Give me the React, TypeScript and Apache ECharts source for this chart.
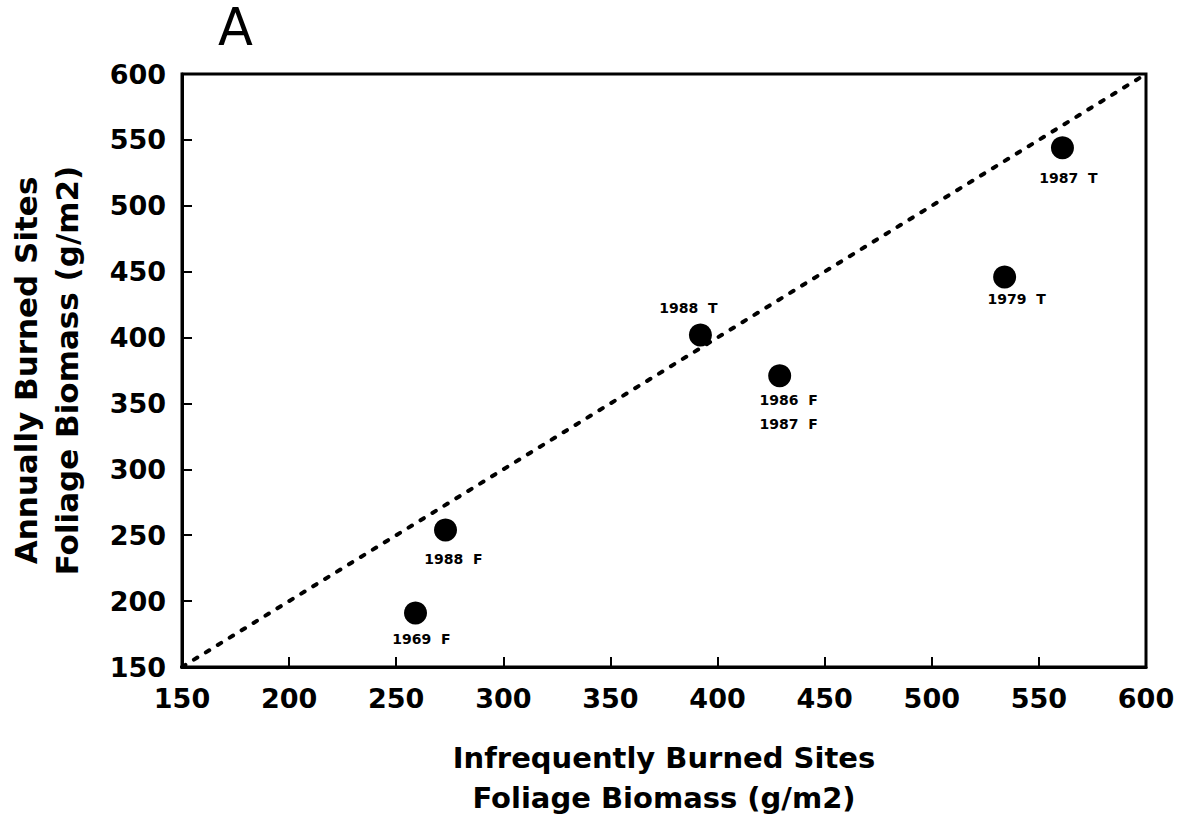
import React, { useEffect, useRef } from "react";
import * as echarts from "echarts";

const pointNames = ["1969  F", "1988  F", "1988  T", "1986  F\n1987  F", "1987  T", "1979  T"];
const infrequentValues = [259, 273, 392, 429, 561, 534];
const annualValues = [191, 254, 402, 371, 544, 446];
const labelOffsets = [
  [6, 26],
  [8, 29],
  [-12, -27],
  [9, 36],
  [6, 30],
  [12, 22],
];
const lineX = [150, 600];
const lineY = [150, 600];
const tickValues = [150, 200, 250, 300, 350, 400, 450, 500, 550, 600];

const FONT = "DejaVu Sans";

export default function App() {
  const ref = useRef<HTMLDivElement>(null);
  useEffect(() => {
    if (!ref.current) return;
    const chart = echarts.init(ref.current, null, { renderer: "svg" });
    const axisCommon = {
      type: "value",
      min: tickValues[0],
      max: tickValues[tickValues.length - 1],
      interval: 50,
      axisLine: { show: true, lineStyle: { color: "#000", width: 3 } },
      axisTick: { show: true, inside: true, length: 10, lineStyle: { color: "#000", width: 2 } },
      splitLine: { show: false },
      axisLabel: { color: "#000", fontFamily: FONT, fontWeight: "bold", fontSize: 27 },
      nameLocation: "middle",
    };
    chart.setOption({
      animation: false,
      backgroundColor: "#fff",
      title: {
        text: "A",
        left: 218,
        top: 6,
        padding: 0,
        textStyle: { fontFamily: "DejaVu Sans", fontWeight: "normal", fontSize: 51, lineHeight: 42, color: "#000" },
      },
      grid: {
        left: 182,
        right: 41,
        top: 74,
        bottom: 159,
        outerBoundsMode: "none",
        containLabel: false,
        show: true,
        borderColor: "#000",
        borderWidth: 3,
      },
      xAxis: {
        ...axisCommon,
        name: "Infrequently Burned Sites\nFoliage Biomass (g/m2)",
        nameGap: 71,
        nameTextStyle: { color: "#000", fontFamily: FONT, fontWeight: "bold", fontSize: 29, lineHeight: 40 },
        axisLabel: { ...axisCommon.axisLabel, margin: 18 },
      },
      yAxis: {
        ...axisCommon,
        name: "Annually Burned Sites\nFoliage Biomass (g/m2)",
        nameGap: 95,
        nameTextStyle: { color: "#000", fontFamily: FONT, fontWeight: "bold", fontSize: 31, lineHeight: 41 },
        axisLabel: { ...axisCommon.axisLabel, margin: 16 },
      },
      series: [
        {
          type: "line",
          data: lineX.map((x, i) => [x, lineY[i]]),
          symbol: "none",
          lineStyle: { color: "#000", width: 4, type: [4, 10], cap: "round" },
          silent: true,
          z: 1,
        },
        {
          type: "scatter",
          symbol: "circle",
          symbolSize: 23,
          itemStyle: { color: "#000", opacity: 1 },
          z: 3,
          data: infrequentValues.map((x, i) => ({
            value: [x, annualValues[i]],
            name: pointNames[i],
            label: {
              show: true,
              position: "inside",
              offset: labelOffsets[i],
              formatter: pointNames[i],
              color: "#000",
              fontFamily: FONT,
              fontWeight: "bold",
              fontSize: 14,
              lineHeight: 24,
              align: "center",
              verticalAlign: "middle",
            },
          })),
        },
      ],
    });
    return () => chart.dispose();
  }, []);
  return (
    <div
      ref={ref}
      style={{ position: "fixed", left: 0, top: 0, width: 1187, height: 826, background: "#fff" }}
    />
  );
}
